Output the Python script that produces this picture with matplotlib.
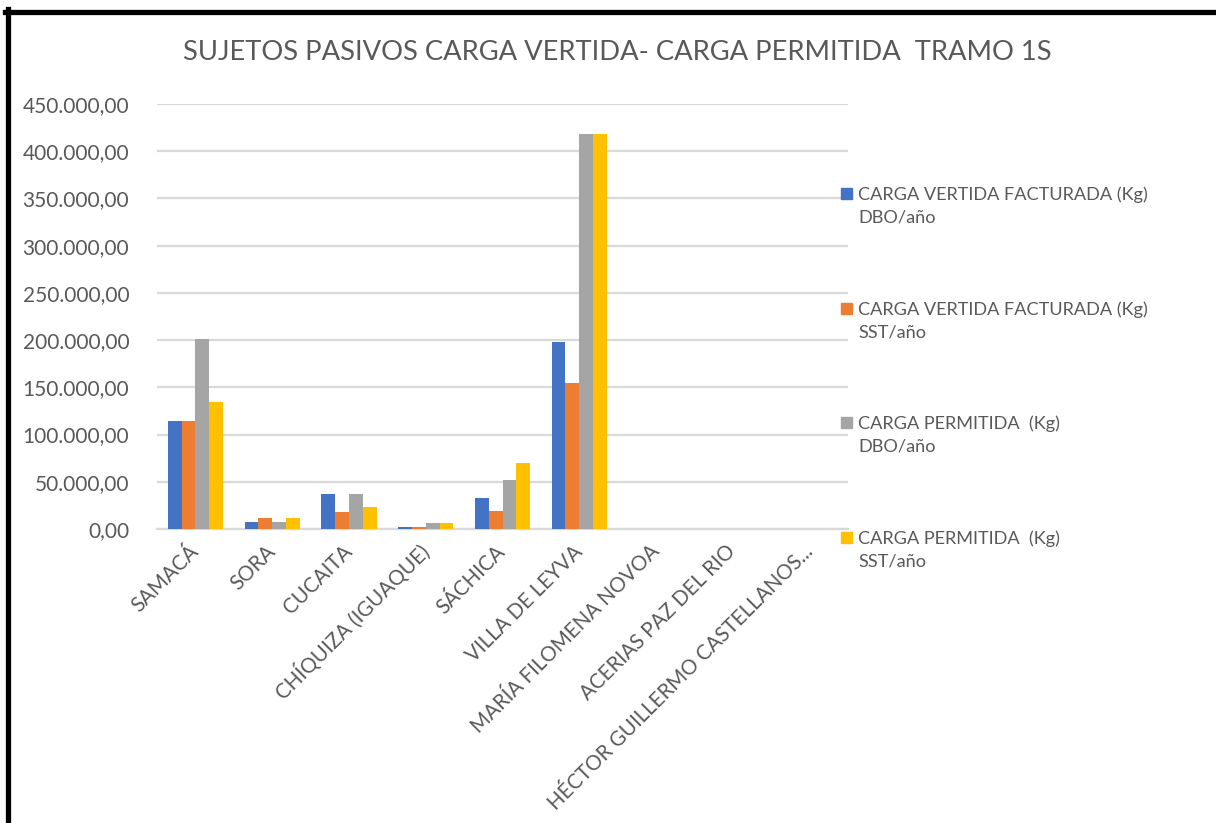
import numpy as np
import matplotlib.pyplot as plt
from matplotlib.patches import Rectangle
from matplotlib.lines import Line2D
from matplotlib.ticker import FuncFormatter, MultipleLocator

plt.rcParams["font.family"] = ["Lato", "DejaVu Sans"]

# data
municipios = [
    "SAMACÁ", "SORA", "CUCAITA", "CHÍQUIZA (IGUAQUE)", "SÁCHICA",
    "VILLA DE LEYVA", "MARÍA FILOMENA NOVOA", "ACERIAS PAZ DEL RIO",
    "HÉCTOR GUILLERMO CASTELLANOS...",
]
vertida_dbo = [114500, 7400, 37400, 1800, 33200, 198500, 0, 0, 0]
vertida_sst = [114500, 11300, 18000, 1800, 19400, 155000, 0, 0, 0]
permitida_dbo = [201000, 7400, 37400, 6000, 51700, 418000, 0, 0, 0]
permitida_sst = [134900, 11300, 23600, 6000, 69400, 418000, 0, 0, 0]

series_names = [
    "CARGA VERTIDA FACTURADA (Kg)\nDBO/año",
    "CARGA VERTIDA FACTURADA (Kg)\nSST/año",
    "CARGA PERMITIDA  (Kg)\nDBO/año",
    "CARGA PERMITIDA  (Kg)\nSST/año",
]
colors = ["#4472C4", "#ED7D31", "#A5A5A5", "#FFC000"]
text_color = "#595959"
grid_color = "#D9D9D9"

W, H = 1216, 823
fig = plt.figure(figsize=(W / 100, H / 100), dpi=100)
ax = fig.add_axes([157 / W, 1 - 529 / H, (848 - 157) / W, (529 - 104) / H])

x = np.arange(len(municipios))
bar_w = 0.18
all_series = [vertida_dbo, vertida_sst, permitida_dbo, permitida_sst]
for i, (vals, col) in enumerate(zip(all_series, colors)):
    ax.bar(x + (i - 1.5) * bar_w, vals, width=bar_w, color=col, zorder=3)

ax.set_xlim(-0.5, len(municipios) - 0.5)
ax.set_ylim(0, 450000)
ax.yaxis.set_major_locator(MultipleLocator(50000))


def es_format(v, pos):
    s = f"{v:,.2f}"
    return s.replace(",", "X").replace(".", ",").replace("X", ".")


ax.yaxis.set_major_formatter(FuncFormatter(es_format))
ax.grid(axis="y", color=grid_color, linewidth=1.6, zorder=0)
for side in ["top", "right", "left"]:
    ax.spines[side].set_visible(False)
ax.spines["bottom"].set_color(grid_color)
ax.spines["bottom"].set_linewidth(1.6)
ax.tick_params(axis="both", length=0, colors=text_color, labelsize=15)
ax.tick_params(axis="y", pad=20)

ax.set_xticks(x)
ax.set_xticklabels(municipios, rotation=45, ha="right", va="center",
                   rotation_mode="anchor", fontsize=14.8, color=text_color)
ax.tick_params(axis="x", pad=14)

fig.text(617 / W, 1 - 52 / H,
         "SUJETOS PASIVOS CARGA VERTIDA- CARGA PERMITIDA  TRAMO 1S",
         ha="center", va="center", fontsize=19.7, color=text_color)

# legend, drawn by hand to keep the Excel layout
legend_y = [193, 308, 422, 537]
for name, col, ly in zip(series_names, colors, legend_y):
    fig.patches.append(Rectangle((841 / W, 1 - (ly + 6) / H), 11 / W, 11 / H,
                                 transform=fig.transFigure, color=col))
    fig.text(858 / W, 1 - (ly + 12.5) / H, name, ha="left", va="center",
             fontsize=13.1, color=text_color, linespacing=1.5)

# black frame on top and left
fig.lines.append(Line2D([5 / W, 1], [1 - 11.5 / H, 1 - 11.5 / H],
                        transform=fig.transFigure, color="black", linewidth=3.8))
fig.lines.append(Line2D([7.5 / W, 7.5 / W], [0, 1 - 9 / H],
                        transform=fig.transFigure, color="black", linewidth=3.8))

fig.savefig("out.png", dpi=100)
